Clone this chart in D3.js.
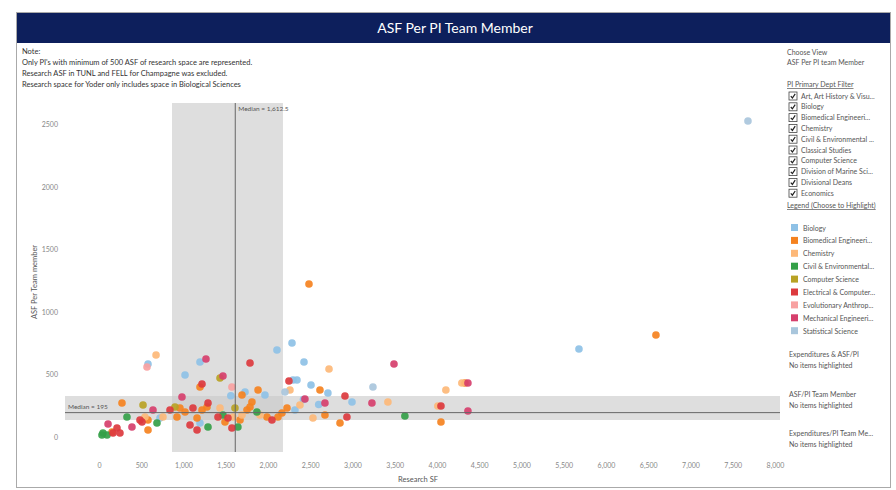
<!DOCTYPE html>
<html>
<head>
    <title>ASF Per PI Team Member</title>
    <script src="https://d3js.org/d3.v7.min.js"></script>
    <style>
        body { margin: 0; background: #fff; font-family: Lato, "Open Sans", sans-serif; }
        svg text { fill: #555; }
    </style>
</head>
<body>
<div id="chart"></div>
<script>
    // Departments and their colours
    const departments = ["Biology", "Biomedical Engineeri...", "Chemistry", "Civil & Environmental...",
        "Computer Science", "Electrical & Computer...", "Evolutionary Anthrop...",
        "Mechanical Engineeri...", "Statistical Science"];
    const deptColors = ["#8ec1e6", "#f5821f", "#fdb878", "#34a048", "#b8a224",
        "#dc3a3e", "#f8a1a1", "#d63f6c", "#a9c6dc"];

    const filterItems = ["Art, Art History & Visu...", "Biology", "Biomedical Engineeri...", "Chemistry",
        "Civil & Environmental ...", "Classical Studies", "Computer Science",
        "Division of Marine Sci...", "Divisional Deans", "Economics"];

    const notes = ["Note:",
        "Only PI's with minimum of 500 ASF of research space are represented.",
        "Research ASF in TUNL and FELL for Champagne was excluded.",
        "Research space for Yoder only includes space in Biological Sciences"];

    const xTicks = [0, 500, 1000, 1500, 2000, 2500, 3000, 3500, 4000, 4500, 5000, 5500, 6000, 6500, 7000, 7500, 8000];
    const yTicks = [0, 500, 1000, 1500, 2000, 2500];

    // [research SF, ASF per team member] per department
    const biology = [[580, 584], [1195, 600], [1018, 496], [2106, 696], [2284, 752], [2426, 600],
        [2296, 456], [2343, 456], [2509, 416], [2709, 352], [2319, 216], [1728, 360], [1195, 112],
        [722, 152], [5680, 704], [1964, 336], [2994, 280], [1560, 330], [2420, 300], [2600, 260]];
    const biomedical = [[2485, 1224], [6591, 816], [4331, 432], [4047, 120], [1195, 400], [2615, 376],
        [2852, 112], [2674, 176], [2225, 232], [2165, 192], [2118, 160], [1988, 160], [1882, 376],
        [1692, 336], [1810, 280], [1787, 240], [1751, 216], [1669, 136], [1491, 120], [1160, 152],
        [1219, 216], [1278, 240], [958, 232], [923, 160], [1018, 200], [580, 136], [580, 56],
        [272, 272], [154, 40]];
    const chemistry = [[675, 656], [2722, 544], [2260, 376], [3419, 280], [2532, 152], [2378, 256],
        [1905, 176], [1692, 176], [1585, 160], [1432, 232], [757, 160], [544, 160], [4294, 432],
        [4105, 376], [4010, 248]];
    const civil = [[3620, 168], [1869, 200], [1644, 80], [1467, 176], [1290, 80], [686, 112],
        [331, 160], [47, 32], [95, 16], [35, 16]];
    const computer = [[1432, 472], [1609, 232], [899, 240], [521, 256]];
    const electrical = [[1787, 592], [1219, 424], [2248, 448], [2911, 328], [2934, 160], [2047, 136],
        [1573, 72], [1526, 152], [1408, 160], [1160, 56], [1077, 96], [1112, 232], [1290, 272],
        [840, 216], [509, 120], [485, 136], [213, 72], [248, 32], [166, 32], [4047, 248]];
    const evolutionary = [[568, 560], [1573, 400]];
    const mechanical = [[1266, 624], [1467, 488], [3491, 584], [982, 320], [3230, 272], [2674, 272],
        [2437, 304], [639, 216], [390, 80], [107, 104], [4366, 432], [4366, 208]];
    const statistical = [[7680, 2528], [3242, 400], [2201, 360]];

    const series = [biology, biomedical, chemistry, civil, computer, electrical, evolutionary, mechanical, statistical];

    const medianX = 1612.5, medianY = 195;
    const bandX = [864, 2177], bandY = [136, 328];

    const width = 896, height = 490;
    const svg = d3.select("#chart").append("svg")
        .attr("width", width)
        .attr("height", height);

    // frame and title bar
    svg.append("rect").attr("x", 16.5).attr("y", 12.5).attr("width", 874).attr("height", 475)
        .attr("fill", "#fff").attr("stroke", "#aaa");
    svg.append("rect").attr("x", 17).attr("y", 13).attr("width", 873).attr("height", 30)
        .attr("fill", "#0d1f5c");
    svg.append("text").attr("x", 455).attr("y", 33).attr("text-anchor", "middle")
        .style("fill", "#fff").style("font-size", "14px").text("ASF Per PI Team Member");

    svg.selectAll(".note").data(notes).enter().append("text")
        .attr("x", 22).attr("y", (d, i) => 54 + i * 11)
        .style("font-size", "7.5px").style("fill", "#333").text(d => d);

    // scales
    const x = d3.scaleLinear().domain([0, 8000]).range([99, 775]);
    const y = d3.scaleLinear().domain([0, 2500]).range([437, 124.5]);
    const plot = { left: 65, right: 780, top: 103, bottom: 452 };

    // reference bands
    svg.append("rect").attr("x", x(bandX[0])).attr("y", plot.top)
        .attr("width", x(bandX[1]) - x(bandX[0])).attr("height", plot.bottom - plot.top)
        .attr("fill", "#c8c8c8").attr("opacity", 0.6);
    svg.append("rect").attr("x", plot.left).attr("y", y(bandY[1]))
        .attr("width", plot.right - plot.left).attr("height", y(bandY[0]) - y(bandY[1]))
        .attr("fill", "#c8c8c8").attr("opacity", 0.6);

    // axes
    const xAxis = svg.append("g").attr("transform", `translate(0,${465})`)
        .call(d3.axisBottom(x).tickValues(xTicks).tickSize(0).tickFormat(d3.format(",")));
    const yAxis = svg.append("g").attr("transform", `translate(${61},0)`)
        .call(d3.axisLeft(y).tickValues(yTicks).tickSize(0).tickFormat(d3.format("d")));
    [xAxis, yAxis].forEach(a => {
        a.select(".domain").remove();
        a.selectAll("text").style("font-size", "7px").style("fill", "#888")
            .style("font-family", "Lato, sans-serif");
    });
    xAxis.selectAll("text").attr("dy", "0");
    svg.append("text").attr("x", 418).attr("y", 482).attr("text-anchor", "middle")
        .style("font-size", "7.5px").text("Research SF");
    svg.append("text").attr("transform", "translate(37,282) rotate(-90)").attr("text-anchor", "middle")
        .style("font-size", "7.5px").text("ASF Per Team member");

    // points
    series.forEach((pts, i) => {
        svg.append("g").selectAll("circle").data(pts).enter().append("circle")
            .attr("cx", d => x(d[0]))
            .attr("cy", d => y(d[1]))
            .attr("r", 3.8)
            .attr("fill", deptColors[i])
            .attr("opacity", 0.92);
    });

    // median lines
    svg.append("line").attr("x1", x(medianX)).attr("x2", x(medianX))
        .attr("y1", plot.top).attr("y2", plot.bottom).attr("stroke", "#666").attr("stroke-width", 1);
    svg.append("text").attr("x", x(medianX) + 3).attr("y", 111)
        .style("font-size", "6.5px").text("Median = " + d3.format(",.1f")(medianX));
    svg.append("line").attr("x1", plot.left).attr("x2", plot.right)
        .attr("y1", y(medianY)).attr("y2", y(medianY)).attr("stroke", "#666").attr("stroke-width", 1);
    svg.append("text").attr("x", 68).attr("y", y(medianY) - 4)
        .style("font-size", "6.5px").text("Median = " + medianY);

    // right panel
    const px = 787;
    const panel = svg.append("g").style("font-size", "7px");
    panel.append("text").attr("x", px).attr("y", 55).text("Choose View");
    panel.append("text").attr("x", px).attr("y", 65).text("ASF Per PI team Member");
    panel.append("text").attr("x", px).attr("y", 87).style("text-decoration", "underline").text("PI Primary Dept Filter");

    const fi = panel.selectAll(".fi").data(filterItems).enter().append("g")
        .attr("transform", (d, i) => `translate(${px + 2},${96 + i * 10.8})`);
    fi.append("rect").attr("x", 0).attr("y", -4).attr("width", 8).attr("height", 8)
        .attr("fill", "#fff").attr("stroke", "#444").attr("stroke-width", 0.8);
    fi.append("path").attr("d", "M1.8,0.2 L3.4,2 L6.2,-2.2").attr("fill", "none")
        .attr("stroke", "#222").attr("stroke-width", 1.2);
    fi.append("text").attr("x", 12).attr("y", 2.5).text(d => d);

    panel.append("text").attr("x", px).attr("y", 208).style("text-decoration", "underline")
        .text("Legend (Choose to Highlight)");

    const li = panel.selectAll(".li").data(departments).enter().append("g")
        .attr("transform", (d, i) => `translate(${px + 4},${228 + i * 12.9})`);
    li.append("rect").attr("x", 0).attr("y", -4).attr("width", 7).attr("height", 7)
        .attr("fill", (d, i) => deptColors[i]);
    li.append("text").attr("x", 12).attr("y", 2.5).text(d => d);

    const hl = [["Expenditures & ASF/PI", 357], ["ASF/PI Team Member", 397], ["Expenditures/PI Team Me...", 436]];
    hl.forEach(h => {
        panel.append("text").attr("x", px + 2).attr("y", h[1]).text(h[0]);
        panel.append("text").attr("x", px + 2).attr("y", h[1] + 11).text("No items highlighted");
    });
</script>
</body>
</html>
